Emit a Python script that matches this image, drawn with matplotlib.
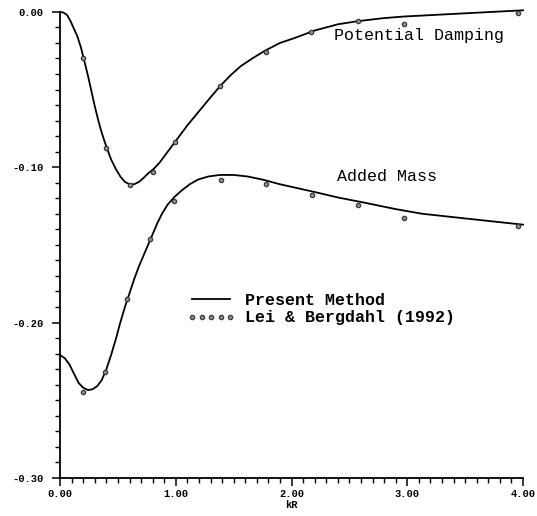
import matplotlib
matplotlib.use("Agg")
import matplotlib.pyplot as plt
from matplotlib.lines import Line2D
from matplotlib.ticker import MultipleLocator

# ----------------------------------------------------------------------------
# Data
# ----------------------------------------------------------------------------

# Present Method - potential damping curve
damp_kr = [0.00, 0.03, 0.06, 0.09, 0.12, 0.15, 0.18, 0.21, 0.24, 0.27, 0.30,
           0.33, 0.36, 0.40, 0.44, 0.48, 0.52, 0.56, 0.60, 0.64, 0.68, 0.72,
           0.76, 0.81, 0.86, 0.90, 0.95, 0.99, 1.05, 1.10, 1.20, 1.30, 1.38,
           1.47, 1.56, 1.66, 1.77, 1.90, 2.02, 2.20, 2.40, 2.57, 2.80, 2.97,
           3.48, 4.00]
damp_val = [0.000, -0.0005, -0.002, -0.006, -0.011, -0.016, -0.023, -0.032,
            -0.041, -0.051, -0.061, -0.070, -0.078, -0.087, -0.095, -0.101,
            -0.106, -0.1095, -0.111, -0.111, -0.1095, -0.107, -0.104, -0.101,
            -0.097, -0.093, -0.088, -0.084, -0.078, -0.073, -0.064, -0.055,
            -0.048, -0.041, -0.035, -0.030, -0.025, -0.020, -0.017, -0.012,
            -0.008, -0.006, -0.004, -0.003, -0.001, 0.001]

# Present Method - added mass curve
mass_kr = [0.00, 0.04, 0.08, 0.12, 0.16, 0.20, 0.24, 0.28, 0.32, 0.36, 0.40,
           0.44, 0.48, 0.52, 0.56, 0.60, 0.64, 0.68, 0.72, 0.76, 0.80, 0.84,
           0.88, 0.93, 0.99, 1.05, 1.12, 1.19, 1.28, 1.38, 1.50, 1.62, 1.75,
           1.90, 2.05, 2.20, 2.40, 2.64, 2.90, 3.13, 3.50, 4.00]
mass_val = [-0.221, -0.223, -0.227, -0.233, -0.239, -0.242, -0.2435, -0.243,
            -0.241, -0.237, -0.230, -0.221, -0.211, -0.200, -0.190, -0.181,
            -0.172, -0.164, -0.157, -0.150, -0.143, -0.136, -0.130, -0.124,
            -0.119, -0.115, -0.111, -0.108, -0.106, -0.105, -0.105, -0.106,
            -0.108, -0.111, -0.1135, -0.116, -0.1195, -0.123, -0.127, -0.130,
            -0.133, -0.137]

# Lei & Bergdahl (1992)
lb_kr = [0.20, 0.40, 0.60, 0.80, 0.99, 1.38, 1.78, 2.17, 2.57, 2.97, 3.96]
lb_damp = [-0.0297, -0.0877, -0.1116, -0.103, -0.084, -0.048, -0.0256,
           -0.013, -0.006, -0.0078, -0.0008]
lb_mass_kr = [0.20, 0.39, 0.58, 0.78, 0.98, 1.39, 1.78, 2.18, 2.57, 2.97, 3.96]
lb_mass = [-0.245, -0.232, -0.185, -0.146, -0.122, -0.108, -0.111, -0.118,
           -0.1245, -0.133, -0.138]

X_TICKS = [0.0, 1.0, 2.0, 3.0, 4.0]
X_LABELS = ["0.00", "1.00", "2.00", "3.00", "4.00"]
Y_TICKS = [0.0, -0.10, -0.20, -0.30]
Y_LABELS = ["0.00", "-0.10", "-0.20", "-0.30"]

# ----------------------------------------------------------------------------
# Plotting
# ----------------------------------------------------------------------------

MONO = "Liberation Mono"

fig = plt.figure(figsize=(5.37, 5.16), dpi=100)
ax = fig.add_axes([0.112, 0.074, 0.862, 0.903])

line_kw = dict(color="black", lw=1.3, clip_on=False, zorder=2,
               solid_joinstyle="round")
dot_kw = dict(ls="none", marker="o", ms=3.2, mfc="#8a8a8a", mec="#333333",
              mew=0.8, clip_on=False, zorder=3)

ax.plot(damp_kr, damp_val, **line_kw)
ax.plot(mass_kr, mass_val, **line_kw)
ax.plot(lb_kr, lb_damp, **dot_kw)
ax.plot(lb_mass_kr, lb_mass, **dot_kw)

ax.set_xlim(0.0, 4.0)
ax.set_ylim(-0.30, 0.0)

for side in ("top", "right"):
    ax.spines[side].set_visible(False)
for side in ("left", "bottom"):
    ax.spines[side].set_linewidth(1.3)

ax.set_xticks(X_TICKS, X_LABELS)
ax.set_yticks(Y_TICKS, Y_LABELS)
ax.xaxis.set_minor_locator(MultipleLocator(0.1))
ax.yaxis.set_minor_locator(MultipleLocator(0.01))
ax.tick_params(which="major", direction="out", length=6, width=1.1)
ax.tick_params(which="minor", direction="out", length=3.5, width=1.0)
ax.tick_params(axis="y", which="major", pad=6)
ax.tick_params(axis="x", which="major", pad=2)
for lab in ax.get_xticklabels() + ax.get_yticklabels():
    lab.set_fontfamily(MONO)
    lab.set_fontweight("bold")
    lab.set_fontsize(7.5)

ax.set_xlabel("kR", fontfamily=MONO, fontweight="bold", fontsize=7.5,
              labelpad=1)

ax.text(2.37, -0.0155, "Potential Damping", fontfamily=MONO, fontsize=12,
        va="center", ha="left")
ax.text(2.39, -0.106, "Added Mass", fontfamily=MONO, fontsize=12,
        va="center", ha="left")

handles = [
    Line2D([], [], color="black", lw=1.3),
    Line2D([], [], ls="none", marker="o", ms=3.2, mfc="#8a8a8a",
           mec="#333333", mew=0.8),
]
ax.legend(handles, ["Present Method", "Lei & Bergdahl (1992)"],
          loc="center left", bbox_to_anchor=(0.274, 0.362), frameon=False,
          numpoints=5, handlelength=2.9, handletextpad=0.6,
          borderpad=0, borderaxespad=0, labelspacing=0.15,
          prop={"family": MONO, "size": 12, "weight": "bold"})

fig.savefig("out.png", dpi=100)
